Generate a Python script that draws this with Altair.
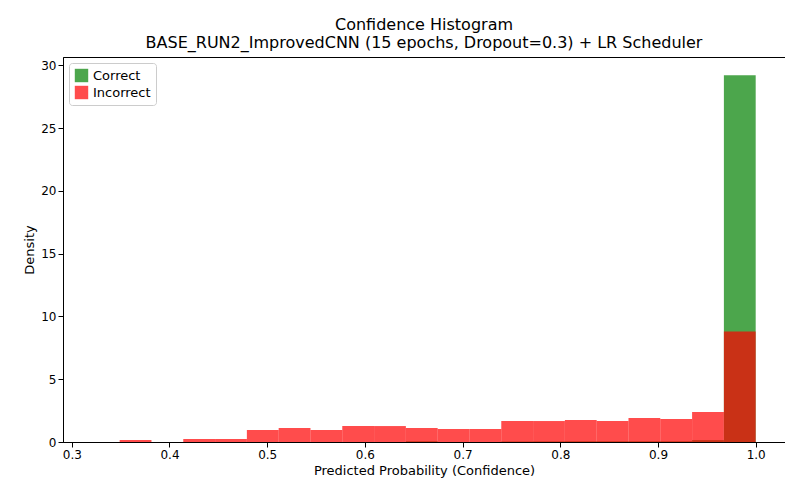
import altair as alt
import pandas as pd

edges = [0.349 + i * 0.03255 for i in range(21)]
incorrect = [0.16, 0, 0.24, 0.24, 0.95, 1.11, 0.95, 1.27, 1.27, 1.11,
             1.03, 1.03, 1.67, 1.67, 1.75, 1.67, 1.91, 1.83, 2.39, 8.8]
correct = [0, 0, 0, 0, 0, 0, 0, 0, 0, 0.05,
           0, 0, 0.04, 0.05, 0.05, 0.05, 0.05, 0.05, 0.15, 29.2]


def frame(vals, label):
    return pd.DataFrame({'start': edges[:-1], 'end': edges[1:], 'density': vals, 'kind': label})


x_scale = alt.Scale(domain=[0.291, 1.030], nice=False, zero=False)
y_scale = alt.Scale(domain=[0, 30.66], nice=False)
color = alt.Color('kind:N', title=None,
                  scale=alt.Scale(domain=['Correct', 'Incorrect'], range=['green', 'red']),
                  legend=alt.Legend(orient='top-left', offset=6, symbolType='square', symbolSize=180,
                                    symbolOpacity=0.7, labelFontSize=13, strokeColor='#ccc',
                                    padding=5, cornerRadius=3, fillColor='white'))


def bars(df):
    return alt.Chart(df).mark_bar(opacity=0.7, binSpacing=0).encode(
        x=alt.X('start:Q', scale=x_scale, title='Predicted Probability (Confidence)',
                axis=alt.Axis(values=[0.3, 0.4, 0.5, 0.6, 0.7, 0.8, 0.9, 1.0], format='.1f', grid=False)),
        x2='end:Q',
        y=alt.Y('density:Q', scale=y_scale, title='Density', stack=None,
                axis=alt.Axis(values=[0, 5, 10, 15, 20, 25, 30], grid=False)),
        y2=alt.datum(0),
        color=color,
    )


chart = alt.layer(bars(frame(correct, 'Correct')), bars(frame(incorrect, 'Incorrect'))).properties(
    width=722, height=385, autosize='none',
    padding={'left': 55, 'top': 49, 'right': 0, 'bottom': 50},
    title=alt.Title(['Confidence Histogram',
                    'BASE_RUN2_ImprovedCNN (15 epochs, Dropout=0.3) + LR Scheduler'],
                    fontSize=16, fontWeight='normal', font='DejaVu Sans', offset=6, color='black'),
).configure_axis(
    labelFont='DejaVu Sans', titleFont='DejaVu Sans', labelFontSize=12, titleFontSize=13,
    titleFontWeight='normal', labelColor='black', titleColor='black', domainColor='black',
    tickColor='black', labelFlush=False,
).configure_legend(labelFont='DejaVu Sans').configure_view(stroke='black')

chart.save('out.html', embed_options={'renderer': 'svg', 'actions': False})
